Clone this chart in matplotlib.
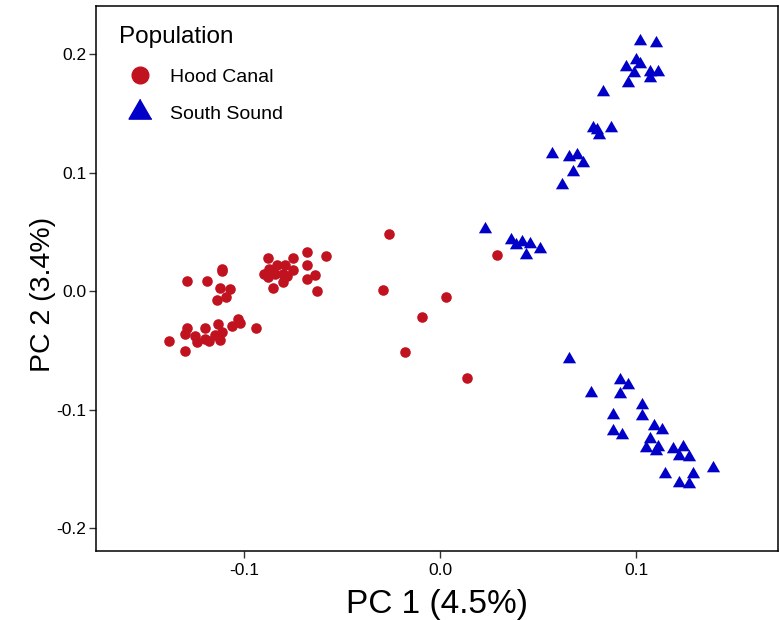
import matplotlib.pyplot as plt
from matplotlib.lines import Line2D

plt.rcParams['font.family'] = ['Liberation Sans', 'DejaVu Sans']

# PCA scores, Hood Canal samples
hc_pc1 = [-0.026, 0.029, -0.029, 0.003, -0.009, -0.018, 0.014,
          -0.088, -0.075, -0.068, -0.058, -0.068, -0.064, -0.068, -0.063,
          -0.075, -0.090, -0.087, -0.083, -0.079, -0.084, -0.080, -0.080,
          -0.085, -0.088, -0.078,
          -0.111, -0.111, -0.129, -0.119, -0.112, -0.107, -0.109, -0.114,
          -0.094, -0.103, -0.102, -0.106, -0.113, -0.120, -0.129, -0.138,
          -0.130, -0.130, -0.125, -0.124, -0.120, -0.118, -0.115, -0.112, -0.111]
hc_pc2 = [0.048, 0.031, 0.001, -0.005, -0.022, -0.051, -0.073,
          0.028, 0.028, 0.033, 0.030, 0.022, 0.014, 0.010, 0.000,
          0.018, 0.015, 0.019, 0.022, 0.022, 0.015, 0.015, 0.008,
          0.003, 0.012, 0.013,
          0.019, 0.017, 0.009, 0.009, 0.003, 0.002, -0.005, -0.007,
          -0.031, -0.023, -0.027, -0.029, -0.028, -0.031, -0.031, -0.042,
          -0.050, -0.036, -0.038, -0.043, -0.040, -0.042, -0.037, -0.041, -0.034]

# PCA scores, South Sound samples
ss_pc1 = [0.102, 0.110, 0.100, 0.102, 0.095, 0.099, 0.107, 0.111, 0.107, 0.096,
          0.083, 0.078, 0.080, 0.087, 0.081, 0.057, 0.066, 0.070, 0.073, 0.068,
          0.062, 0.023, 0.036, 0.039, 0.042, 0.046, 0.051, 0.044,
          0.066, 0.077, 0.092, 0.096, 0.092, 0.103, 0.103, 0.088, 0.088, 0.093,
          0.109, 0.113, 0.107, 0.105, 0.111, 0.110, 0.119, 0.124, 0.122, 0.127,
          0.139, 0.115, 0.129, 0.122, 0.127]
ss_pc2 = [0.211, 0.210, 0.195, 0.192, 0.189, 0.184, 0.185, 0.185, 0.180, 0.176,
          0.168, 0.138, 0.136, 0.138, 0.132, 0.116, 0.113, 0.115, 0.108, 0.101,
          0.090, 0.053, 0.043, 0.039, 0.042, 0.040, 0.036, 0.031,
          -0.057, -0.086, -0.075, -0.079, -0.087, -0.096, -0.105, -0.104, -0.118, -0.121,
          -0.114, -0.117, -0.125, -0.132, -0.131, -0.135, -0.133, -0.131, -0.139, -0.140,
          -0.149, -0.154, -0.154, -0.162, -0.163]

red = '#C1121F'
blue = '#0000C8'
tri = [(0, 0.577), (-0.5, -0.289), (0.5, -0.289)]

fig = plt.figure(figsize=(7.79, 6.2), dpi=100)
ax = fig.add_axes([0.1232, 0.1113, 0.8755, 0.879])

ax.scatter(hc_pc1, hc_pc2, s=58, marker='o', color=red, linewidths=0, label='Hood Canal')
ax.scatter(ss_pc1, ss_pc2, s=120, marker=tri, color=blue, linewidths=0, label='South Sound')

ax.set_xlim(-0.1755, 0.1724)
ax.set_ylim(-0.2192, 0.2408)
ax.set_xticks([-0.1, 0.0, 0.1])
ax.set_yticks([-0.2, -0.1, 0.0, 0.1, 0.2])
ax.set_xticklabels(['-0.1', '0.0', '0.1'])
ax.set_yticklabels(['-0.2', '-0.1', '0.0', '0.1', '0.2'])
ax.tick_params(labelsize=12.5, length=5, width=1, color='#333333', pad=4)
ax.tick_params(axis='y', pad=2)
for s in ax.spines.values():
    s.set_linewidth(1.1)
    s.set_color('black')

ax.set_xlabel('PC 1 (4.5%)', fontsize=24)
ax.xaxis.set_label_coords(0.5, -0.069)
ax.set_ylabel('PC 2 (3.4%)', fontsize=20.5)
ax.yaxis.set_label_coords(-0.059, 0.47)

handles = [Line2D([], [], marker='o', color=red, linestyle='', markersize=12),
           Line2D([], [], marker=tri, color=blue, linestyle='', markersize=19)]
leg = ax.legend(handles, ['Hood Canal', 'South Sound'], title='Population',
                loc='upper left', bbox_to_anchor=(0.008, 0.995), frameon=False,
                fontsize=14, title_fontsize=17.5, alignment='left',
                labelspacing=1.02, handletextpad=0.46, handlelength=2.15)

fig.savefig('out.png', dpi=100)
